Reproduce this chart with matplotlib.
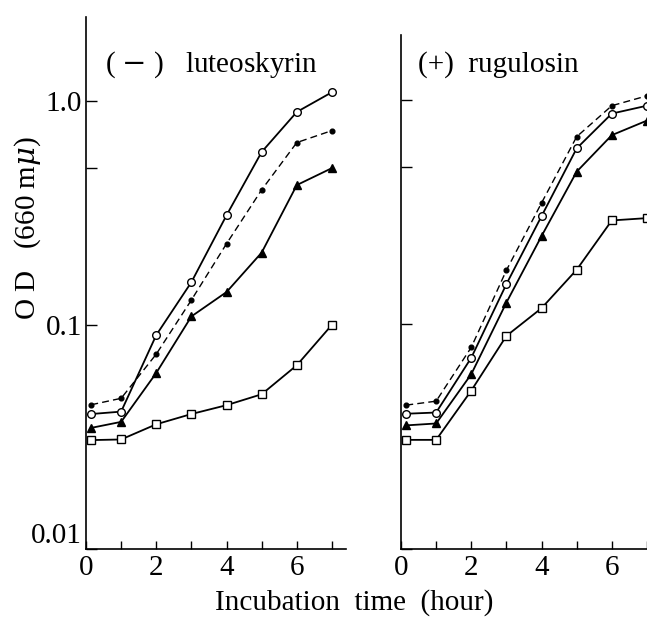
import matplotlib
matplotlib.use("Agg")
import matplotlib.pyplot as plt
from matplotlib.ticker import FixedLocator, NullFormatter

plt.rcParams['font.family'] = ['Liberation Serif', 'DejaVu Serif']
plt.rcParams['mathtext.fontset'] = 'dejavuserif'

hours = [0.15, 1, 2, 3, 4, 5, 6, 7]

# (-) luteoskyrin
lut_open = [0.040, 0.041, 0.090, 0.155, 0.308, 0.59, 0.89, 1.09]
lut_filled = [0.044, 0.047, 0.074, 0.129, 0.230, 0.40, 0.65, 0.735]
lut_tri = [0.0347, 0.0369, 0.061, 0.109, 0.140, 0.210, 0.42, 0.50]
lut_sq = [0.0306, 0.0308, 0.036, 0.040, 0.0438, 0.049, 0.066, 0.100]

# (+) rugulosin
rug_open = [0.040, 0.0405, 0.071, 0.151, 0.303, 0.607, 0.867, 0.94]
rug_filled = [0.0437, 0.0455, 0.079, 0.174, 0.347, 0.684, 0.94, 1.04]
rug_tri = [0.0355, 0.0362, 0.060, 0.125, 0.247, 0.478, 0.695, 0.807]
rug_sq = [0.0306, 0.0306, 0.0507, 0.0888, 0.118, 0.175, 0.290, 0.297]

panel_titles = ["( $-$ )   luteoskyrin", "(+)  rugulosin"]
ytick_vals = [0.01, 0.1, 1.0]
ytick_labels = ["0.01", "0.1", "1.0"]
xtick_major = [0, 2, 4, 6]
xtick_minor = [1, 3, 5, 7]

W, H = 647, 621
fig = plt.figure(figsize=(W / 100, H / 100), dpi=100)
fig.patch.set_facecolor('white')

axL = fig.add_axes([86 / W, (H - 549) / H, 260 / W, (549 - 17) / H])
axR = fig.add_axes([401 / W, (H - 549) / H, 260 / W, (549 - 35) / H])

lw = 1.3

def draw(ax, o, f, t, s):
    ax.plot(hours, f, color='black', lw=1.0, ls=(0, (5, 3)), marker='o',
            ms=3.4, mfc='black', mec='black', zorder=3)
    ax.plot(hours, o, color='black', lw=lw, marker='o', ms=5.5,
            mfc='white', mec='black', mew=1.0, zorder=4)
    ax.plot(hours, t, color='black', lw=lw, marker='^', ms=5.5,
            mfc='black', mec='black', zorder=4)
    ax.plot(hours, s, color='black', lw=lw, marker='s', ms=5.5,
            mfc='white', mec='black', mew=1.0, zorder=4)

draw(axL, lut_open, lut_filled, lut_tri, lut_sq)
draw(axR, rug_open, rug_filled, rug_tri, rug_sq)

for ax, top in ((axL, 2.36), (axR, 1.94)):
    ax.set_yscale('log')
    ax.set_ylim(0.01, top)
    ax.set_xlim(0, 7.4)
    for sp in ('top', 'right'):
        ax.spines[sp].set_visible(False)
    for sp in ('left', 'bottom'):
        ax.spines[sp].set_linewidth(1.2)
    ax.yaxis.set_major_locator(FixedLocator(ytick_vals))
    ax.yaxis.set_minor_locator(FixedLocator([0.5]))
    ax.yaxis.set_minor_formatter(NullFormatter())
    ax.xaxis.set_major_locator(FixedLocator(xtick_major))
    ax.xaxis.set_minor_locator(FixedLocator(xtick_minor))
    ax.tick_params(axis='both', which='both', direction='in', width=1.0)
    ax.tick_params(axis='y', which='both', length=8)
    ax.tick_params(axis='x', which='both', length=6, labelsize=21, pad=4)
    ax.set_facecolor('none')

axL.set_yticklabels(ytick_labels, fontsize=21)
axL.tick_params(axis='y', pad=3)
axL.get_yticklabels()[0].set_verticalalignment('bottom')
axR.set_yticklabels([])

axL.text(105 / W, 1 - 65 / H, panel_titles[0], transform=fig.transFigure,
         fontsize=21, va='center', ha='left')
axR.text(418 / W, 1 - 65 / H, panel_titles[1], transform=fig.transFigure,
         fontsize=21, va='center', ha='left')

fig.text(28 / W, 1 - 228 / H, "O D   (660 m$\\mu$)", rotation=90,
         fontsize=21, va='center', ha='center')
fig.text(354 / W, 1 - 603 / H, "Incubation  time  (hour)",
         fontsize=21, va='center', ha='center')

fig.savefig("out.png", dpi=100, facecolor='white')
